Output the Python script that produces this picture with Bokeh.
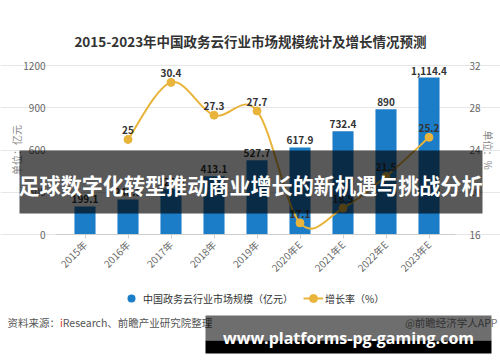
import math
from bokeh.plotting import figure
from bokeh.models import (Range1d, LinearAxis, FixedTicker, ColumnDataSource, LabelSet, Label,
                          BoxAnnotation, Legend, LegendItem)
from bokeh.core.properties import value
from bokeh.embed import file_html
from bokeh.resources import INLINE

# ---------------- data ----------------
years = ["2015年", "2016年", "2017年", "2018年", "2019年", "2020年E", "2021年E", "2022年E", "2023年E"]
market_size = [199.1, 248.9, 324.5, 413.1, 527.7, 617.9, 732.4, 890.0, 1114.4]
market_labels = ["199.1", "248.9", "324.5", "413.1", "527.7", "617.9", "732.4", "890", "1,114.4"]
growth_years = years[1:]
growth_rate = [25.0, 30.4, 27.3, 27.7, 17.1, 18.5, 21.5, 25.2]
growth_labels = ["25", "30.4", "27.3", "27.7", "17.1", "18.5", "21.5", "25.2"]
left_ticks = [0, 300, 600, 900, 1200]
right_ticks = [16, 20, 24, 28, 32]

title_text = "2015-2023年中国政务云行业市场规模统计及增长情况预测"
size_name = "中国政务云行业市场规模（亿元）"
rate_name = "增长率（%）"
banner_text = "足球数字化转型推动商业增长的新机遇与挑战分析"
site_text = "www.platforms-pg-gaming.com"

FONT = "Noto Sans CJK SC"
BLUE = "#1b7cc8"
GOLD = "#e8b43c"
TXT = "#333333"

# ---------------- layout (page pixels) ----------------
W, H = 500, 362
PLOT_L, PLOT_R = 55, 455          # plotting area edges
PLOT_T, PLOT_B = 65, 234          # top (max) / bottom (zero)
CAT0, CAT_STEP = 84.5, 43.0       # first category centre, category spacing
Y_MAX = left_ticks[-1]
R_MIN, R_MAX = right_ticks[0], right_ticks[-1]

def px_to_x(px):
    return (px - CAT0) / CAT_STEP

ppu = (PLOT_B - PLOT_T) / Y_MAX
rppu = (PLOT_B - PLOT_T) / (R_MAX - R_MIN)
x_lo, x_hi = px_to_x(0), px_to_x(W)
y_lo, y_hi = -(H - PLOT_B) / ppu, Y_MAX + PLOT_T / ppu
r_lo, r_hi = R_MIN - (H - PLOT_B) / rppu, R_MAX + PLOT_T / rppu
ax_l, ax_r = px_to_x(PLOT_L), px_to_x(PLOT_R)

p = figure(width=W, height=H, output_backend="svg", toolbar_location=None,
           x_range=Range1d(x_lo, x_hi), y_range=Range1d(y_lo, y_hi), min_border=0)
p.title.visible = False
p.outline_line_color = None
p.background_fill_color = "white"
p.border_fill_color = "white"
p.xgrid.visible = False
p.ygrid.grid_line_color = "#e6e6e6"
p.ygrid.bounds = (ax_l, ax_r)

# x axis
xi = list(range(len(years)))
xa = p.xaxis[0]
xa.fixed_location = 0
xa.bounds = (ax_l, ax_r)
xa.ticker = FixedTicker(ticks=xi)
xa.major_label_overrides = {i: years[i] for i in xi}
xa.major_label_orientation = math.pi / 4
xa.axis_line_color = "#cccccc"
xa.major_tick_line_color = "#cccccc"
xa.major_tick_out = 4
xa.major_tick_in = 0
xa.minor_tick_line_color = None
xa.major_label_standoff = 4
xa.major_label_text_font = FONT
xa.major_label_text_font_size = "10px"
xa.major_label_text_color = "#666666"

# left axis
ya = p.yaxis[0]
ya.fixed_location = ax_l
ya.bounds = (0, Y_MAX)
ya.ticker = FixedTicker(ticks=left_ticks)
ya.axis_label = "单位：亿元"
ya.axis_line_color = None
ya.major_tick_line_color = None
ya.minor_tick_line_color = None
ya.major_label_standoff = 4
ya.axis_label_standoff = -4
ya.major_label_text_font = FONT
ya.major_label_text_font_size = "10px"
ya.major_label_text_color = "#666666"
ya.axis_label_text_font = FONT
ya.axis_label_text_font_size = "10px"
ya.axis_label_text_font_style = "normal"
ya.axis_label_text_color = "#888888"

# right axis
p.extra_y_ranges = {"rate": Range1d(r_lo, r_hi)}
raxis = LinearAxis(y_range_name="rate", ticker=FixedTicker(ticks=right_ticks), axis_label="单位：%")
raxis.fixed_location = ax_r
raxis.bounds = (R_MIN, R_MAX)
raxis.axis_line_color = None
raxis.major_tick_line_color = None
raxis.minor_tick_line_color = None
raxis.major_label_standoff = 8
raxis.axis_label_standoff = -3
raxis.major_label_text_font = FONT
raxis.major_label_text_font_size = "10px"
raxis.major_label_text_color = "#666666"
raxis.axis_label_text_font = FONT
raxis.axis_label_text_font_size = "10px"
raxis.axis_label_text_font_style = "normal"
raxis.axis_label_text_color = "#888888"
p.add_layout(raxis, "right")

# bars
bar_src = ColumnDataSource(dict(x=xi, top=market_size, label=market_labels))
bars = p.vbar(x="x", top="top", width=0.49, source=bar_src, fill_color=BLUE, line_color=None)

# smooth growth line (cardinal spline drawn as bezier segments through the data points)
gx = [years.index(y) for y in growth_years]
def spline_segments(xs, ys, k=0.17):
    n = len(xs)
    d = dict(x0=[], y0=[], x1=[], y1=[], cx0=[], cy0=[], cx1=[], cy1=[])
    for i in range(n - 1):
        pi_ = max(i - 1, 0)
        ni = min(i + 2, n - 1)
        d["x0"].append(xs[i]); d["y0"].append(ys[i])
        d["x1"].append(xs[i + 1]); d["y1"].append(ys[i + 1])
        d["cx0"].append(xs[i] + (xs[i + 1] - xs[pi_]) * k)
        d["cy0"].append(ys[i] + (ys[i + 1] - ys[pi_]) * k)
        d["cx1"].append(xs[i + 1] - (xs[ni] - xs[i]) * k)
        d["cy1"].append(ys[i + 1] - (ys[ni] - ys[i]) * k)
    return d

seg_src = ColumnDataSource(spline_segments(gx, growth_rate))
curve = p.bezier(x0="x0", y0="y0", x1="x1", y1="y1", cx0="cx0", cy0="cy0", cx1="cx1", cy1="cy1",
                 source=seg_src, line_color=GOLD, line_width=2, y_range_name="rate")
rate_src = ColumnDataSource(dict(x=gx, y=growth_rate, label=growth_labels))
dots = p.scatter(x="x", y="y", source=rate_src, marker="circle", size=8, fill_color=GOLD,
                 line_color=GOLD, y_range_name="rate")
# zero-size markers on the bars: only used to give the legend its round blue swatch
bar_swatch = p.scatter(x="x", y="top", source=bar_src, marker="circle", size=0,
                       fill_color=BLUE, line_color=None)

# value labels
p.add_layout(LabelSet(x="x", y="top", text="label", source=bar_src, y_offset=3,
                      text_align="center", text_baseline="bottom", text_font=value(FONT),
                      text_font_size="10px", text_font_style="bold", text_color=TXT))
p.add_layout(LabelSet(x="x", y="y", text="label", source=rate_src, y_offset=5,
                      text_align="center", text_baseline="bottom", text_font=value(FONT),
                      text_font_size="10px", text_font_style="bold", text_color=TXT,
                      y_range_name="rate"))

# legend
legend = Legend(items=[LegendItem(label=size_name, renderers=[bar_swatch]),
                       LegendItem(label=rate_name, renderers=[curve, dots])],
                orientation="horizontal", location=(121, H - 308), glyph_width=20, glyph_height=20,
                label_standoff=2, spacing=10, padding=0, margin=0,
                border_line_color=None, background_fill_alpha=0,
                label_text_font=FONT, label_text_font_size="10px", label_text_color=TXT)
p.add_layout(legend, "center")

def lab(x, y, text, **kw):
    opts = dict(x_units="screen", y_units="screen", text_baseline="middle", text_font=FONT)
    opts.update(kw)
    p.add_layout(Label(x=x, y=H - y, text=text, **opts))

# title
lab(250, 40, title_text, text_align="center", text_font_size="13.5px",
    text_font_style="bold", text_color=TXT)

# footer
lab(7, 322, "资料来源：", text_align="left", text_font_size="10.5px", text_color="#555555")
lab(59.5, 322, "i", text_align="left", text_font_size="10.5px", text_color="#e03c31")
lab(62.3, 322, "Research、前瞻产业研究院整理", text_align="left", text_font_size="10.5px",
    text_color="#555555")
lab(497, 322, "@前瞻经济学人APP", text_align="right", text_font_size="10.5px", text_color="#777777")

def box(l, r, t, b, alpha):
    p.add_layout(BoxAnnotation(left=l, right=r, top=H - t, bottom=H - b,
                               left_units="screen", right_units="screen",
                               top_units="screen", bottom_units="screen",
                               fill_color="black", fill_alpha=alpha, line_color=None))

# overlay banner
box(19, 482, 150, 213, 0.65)
lab(250, 184, banner_text, text_align="center", text_font_size="21.1px",
    text_font_style="bold", text_color="white")

# site pill
box(205, 491, 315, 340, 0.57)
box(205, 491, 340, 353, 1.0)
lab(348, 337, site_text, text_align="center", text_font="Open Sans", text_font_size="16px",
    text_font_style="bold", text_color="white")

open("out.html", "w").write(file_html(p, INLINE))
